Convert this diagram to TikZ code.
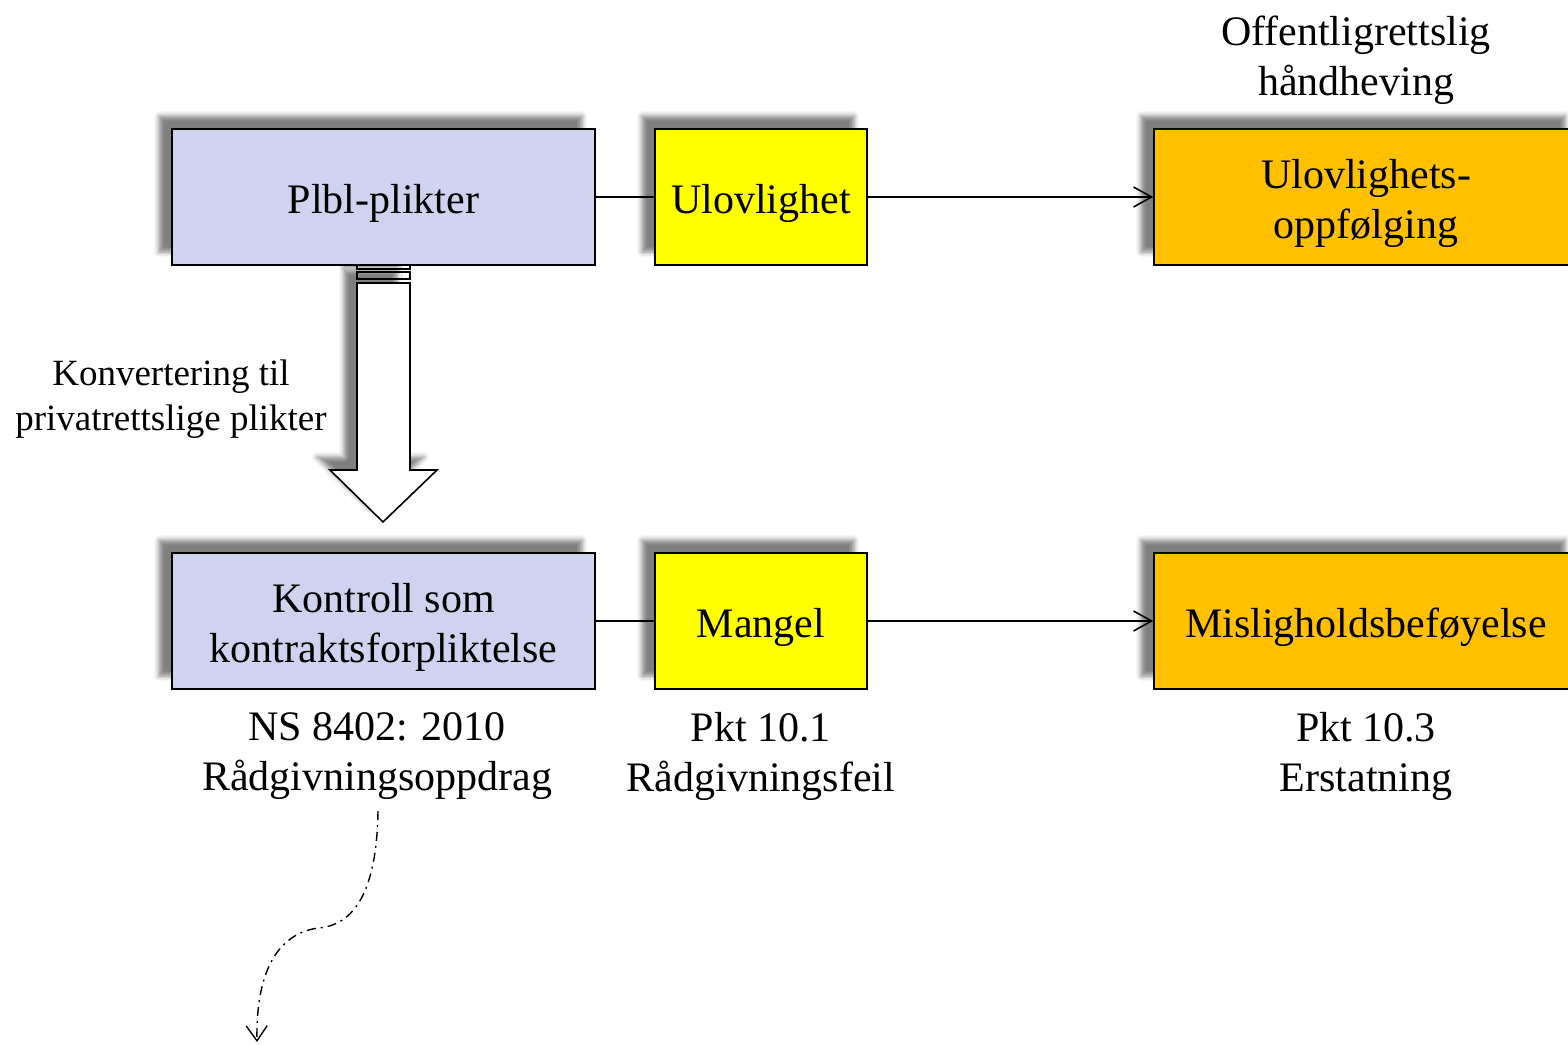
\documentclass[tikz,border=0pt]{standalone}
\usepackage{fontspec}
\setmainfont{Liberation Serif}
\usetikzlibrary{shadows.blur,arrows.meta}
\definecolor{lav}{RGB}{208,211,240}
\definecolor{ylw}{RGB}{255,255,0}
\definecolor{org}{RGB}{255,192,0}
\newcommand{\bigfnt}{\fontsize{42}{50}\selectfont}
\newcommand{\smlfnt}{\fontsize{37}{45}\selectfont}
\newcommand{\bt}[1]{\raisebox{-6pt}[\height][\depth]{\begin{tabular}{@{}c@{}}#1\end{tabular}}}
\begin{document}
\begin{tikzpicture}[x=1pt,y=-1pt,
  myshadow/.style={blur shadow={shadow xshift=-13pt, shadow yshift=13pt, shadow blur radius=5pt, shadow opacity=50}},
  box/.style={draw=black, line width=1.6pt, minimum width=423pt, minimum height=136pt, inner sep=0pt, font=\bigfnt, myshadow},
  lbl/.style={align=center, font=\bigfnt, inner sep=0pt},
  conn/.style={line width=1.6pt, draw=black},
  barb/.style={-{Straight Barb[length=18pt,width=20pt,line width=1.6pt]}}
]
\useasboundingbox (0,0) rectangle (1568,1044);

% big block arrow
\path[myshadow, fill=white, draw=black, line width=1.6pt] (357,265) rectangle (410,269);
\path[myshadow, fill=white, draw=black, line width=1.6pt] (357,272) rectangle (410,279);
\path[myshadow, fill=white, draw=black, line width=1.6pt]
  (357,283) -- (357,470) -- (330,470) -- (383,522) -- (437,470) -- (410,470) -- (410,283) -- cycle;

% boxes
\node[box, fill=lav] (plbl) at (383.5,197) {\bt{Plbl-plikter}};
\node[box, fill=ylw, minimum width=212pt] (ulov) at (761,197) {\bt{Ulovlighet}};
\node[box, fill=org, minimum width=424pt] (uf) at (1366,197) {\bt{Ulovlighets-\\oppfølging}};
\node[box, fill=lav] (kontr) at (383.5,621) {\bt{Kontroll som\\kontraktsforpliktelse}};
\node[box, fill=ylw, minimum width=212pt] (mangel) at (761,621) {\bt{Mangel}};
\node[box, fill=org, minimum width=424pt] (mis) at (1366,621) {\bt{Misligholdsbeføyelse}};

% labels
\node[lbl] (off) at (1356,60) {Offentligrettslig\\håndheving};
\node[lbl] (ns) at (377,756) {NS 8402: 2010\\Rådgivningsoppdrag};
\node[lbl] (pkt1) at (761,756) {Pkt 10.1\\Rådgivningsfeil};
\node[lbl] (pkt3) at (1366,756) {Pkt 10.3\\Erstatning};
\node[lbl, font=\smlfnt] (konv) at (171,399) {Konvertering til\\privatrettslige plikter};

% connectors
\draw[conn] (plbl.east) -- (ulov.west);
\draw[conn, barb] (ulov.east) -- (uf.west);
\draw[conn] (kontr.east) -- (mangel.west);
\draw[conn, barb] (mangel.east) -- (mis.west);

% dash-dot curve
\coordinate (cs) at (378,811);
\coordinate (ce) at (257,1042);
\draw[line width=1.4pt, dash pattern=on 9pt off 5pt on 2pt off 5pt,
  -{Straight Barb[length=15pt,width=21pt,line width=1.4pt]}]
  (cs) .. controls (377,880) and (360,925) .. (318,928)
  .. controls (270,935) and (256,985) .. (ce);
\end{tikzpicture}
\end{document}
